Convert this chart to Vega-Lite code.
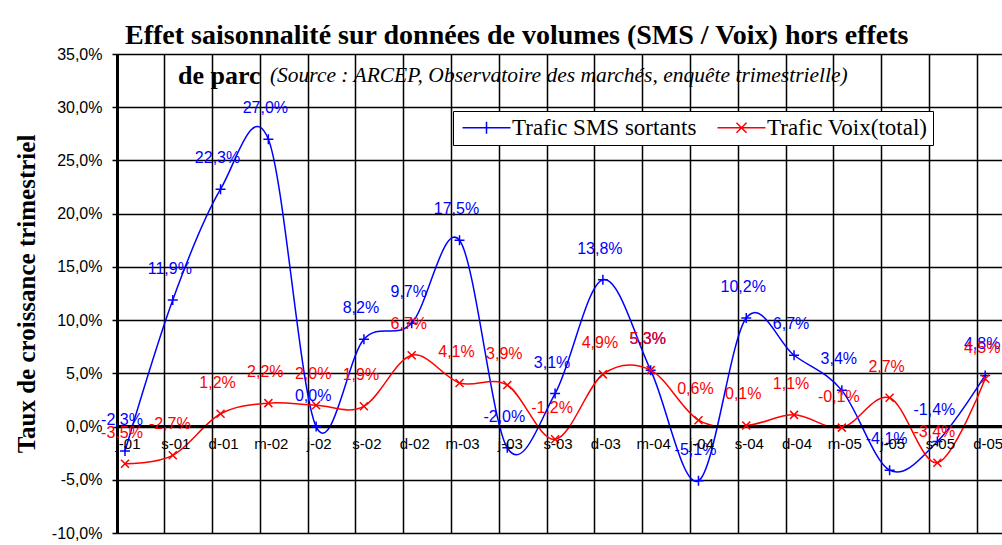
{
  "$schema": "https://vega.github.io/schema/vega-lite/v6.json",
  "autosize": "none",
  "width": 885,
  "height": 479,
  "padding": {"left": 117, "top": 54, "right": 0, "bottom": 12},
  "background": "white",
  "title": {
    "text": "Effet saisonnalité sur données de volumes (SMS / Voix) hors effets",
    "anchor": "start", "frame": "group", "dx": 8, "offset": -4,
    "font": "Liberation Serif", "fontSize": 28, "fontWeight": "bold", "color": "black"
  },
  "config": {
    "locale": {"number": {"decimal": ",", "thousands": " ", "grouping": [3], "currency": ["", " €"], "minus": "-"}},
    "view": {"stroke": null},
    "axis": {"gridColor": "black", "gridWidth": 1.5, "gridOpacity": 1}
  },
  "datasets": {
    "d": [
      {"periode": "j-01", "serie": "Trafic SMS sortants", "taux": -0.023},
      {"periode": "s-01", "serie": "Trafic SMS sortants", "taux": 0.119},
      {"periode": "d-01", "serie": "Trafic SMS sortants", "taux": 0.223},
      {"periode": "m-02", "serie": "Trafic SMS sortants", "taux": 0.270},
      {"periode": "j-02", "serie": "Trafic SMS sortants", "taux": 0.000},
      {"periode": "s-02", "serie": "Trafic SMS sortants", "taux": 0.082},
      {"periode": "d-02", "serie": "Trafic SMS sortants", "taux": 0.097},
      {"periode": "m-03", "serie": "Trafic SMS sortants", "taux": 0.175},
      {"periode": "j-03", "serie": "Trafic SMS sortants", "taux": -0.020},
      {"periode": "s-03", "serie": "Trafic SMS sortants", "taux": 0.031},
      {"periode": "d-03", "serie": "Trafic SMS sortants", "taux": 0.138},
      {"periode": "m-04", "serie": "Trafic SMS sortants", "taux": 0.053},
      {"periode": "j-04", "serie": "Trafic SMS sortants", "taux": -0.051},
      {"periode": "s-04", "serie": "Trafic SMS sortants", "taux": 0.102},
      {"periode": "d-04", "serie": "Trafic SMS sortants", "taux": 0.067},
      {"periode": "m-05", "serie": "Trafic SMS sortants", "taux": 0.034},
      {"periode": "j-05", "serie": "Trafic SMS sortants", "taux": -0.041},
      {"periode": "s-05", "serie": "Trafic SMS sortants", "taux": -0.014},
      {"periode": "d-05", "serie": "Trafic SMS sortants", "taux": 0.048},
      {"periode": "j-01", "serie": "Trafic Voix(total)", "taux": -0.035},
      {"periode": "s-01", "serie": "Trafic Voix(total)", "taux": -0.027},
      {"periode": "d-01", "serie": "Trafic Voix(total)", "taux": 0.012},
      {"periode": "m-02", "serie": "Trafic Voix(total)", "taux": 0.022},
      {"periode": "j-02", "serie": "Trafic Voix(total)", "taux": 0.020},
      {"periode": "s-02", "serie": "Trafic Voix(total)", "taux": 0.019},
      {"periode": "d-02", "serie": "Trafic Voix(total)", "taux": 0.067},
      {"periode": "m-03", "serie": "Trafic Voix(total)", "taux": 0.041},
      {"periode": "j-03", "serie": "Trafic Voix(total)", "taux": 0.039},
      {"periode": "s-03", "serie": "Trafic Voix(total)", "taux": -0.012},
      {"periode": "d-03", "serie": "Trafic Voix(total)", "taux": 0.049},
      {"periode": "m-04", "serie": "Trafic Voix(total)", "taux": 0.053},
      {"periode": "j-04", "serie": "Trafic Voix(total)", "taux": 0.006},
      {"periode": "s-04", "serie": "Trafic Voix(total)", "taux": 0.001},
      {"periode": "d-04", "serie": "Trafic Voix(total)", "taux": 0.011},
      {"periode": "m-05", "serie": "Trafic Voix(total)", "taux": -0.001},
      {"periode": "j-05", "serie": "Trafic Voix(total)", "taux": 0.027},
      {"periode": "s-05", "serie": "Trafic Voix(total)", "taux": -0.034},
      {"periode": "d-05", "serie": "Trafic Voix(total)", "taux": 0.045}
    ]
  },
  "data": {"name": "d"},
  "layer": [
    {
      "mark": {"type": "line", "interpolate": "cardinal", "strokeWidth": 1.5},
      "encoding": {
        "x": {
          "field": "periode", "type": "ordinal", "bandPosition": 0.167,
          "scale": {"type": "band", "domain": ["j-01","s-01","d-01","m-02","j-02","s-02","d-02","m-03","j-03","s-03","d-03","m-04","j-04","s-04","d-04","m-05","j-05","s-05","d-05"], "range": [0, 908], "paddingInner": 0, "paddingOuter": 0},
          "axis": {"orient": "bottom", "grid": true, "bandPosition": 0, "labels": false, "ticks": false, "domain": false, "title": null}
        },
        "y": {
          "field": "taux", "type": "quantitative",
          "scale": {"domain": [-0.1, 0.35], "nice": false, "zero": false},
          "axis": {
            "values": [-0.1, -0.05, 0, 0.05, 0.1, 0.15, 0.2, 0.25, 0.3, 0.35],
            "format": ".1%", "grid": true,
            "domainColor": "black", "domainWidth": 3,
            "tickColor": "black", "tickWidth": 1.5, "tickSize": 5,
            "labelFont": "Liberation Sans", "labelFontSize": 16, "labelColor": "black", "labelPadding": 10,
            "title": "Taux de croissance trimestriel", "titleFont": "Liberation Serif", "titleFontSize": 25,
            "titleFontWeight": "bold", "titleColor": "black", "titlePadding": 12
          }
        },
        "color": {
          "field": "serie", "type": "nominal",
          "scale": {"domain": ["Trafic SMS sortants", "Trafic Voix(total)"], "range": ["#0000ff", "#ff0000"]},
          "legend": {
            "orient": "none", "legendX": 336, "legendY": 57, "direction": "horizontal", "title": null,
            "strokeColor": "black", "fillColor": "white", "padding": 5,
            "labelFont": "Liberation Serif", "labelFontSize": 23, "labelColor": "black", "labelLimit": 400,
            "symbolSize": 400, "symbolStrokeWidth": 1.5, "symbolOffset": 17, "labelOffset": 14, "columnPadding": 16,
            "symbolType": "M-2.4,0H2.4M0,-0.6V0.6",
            "encode": {"symbols": {"update": {"shape": {"signal": "datum.value === 'Trafic SMS sortants' ? 'M-2.4,0H2.4M0,-0.6V0.6' : 'M-2.4,0H2.4M-0.5,-0.5L0.5,0.5M-0.5,0.5L0.5,-0.5'"}}}}
          }
        }
      }
    },
    {
      "data": {"values": [{}]},
      "mark": {"type": "rule", "color": "black", "strokeWidth": 3},
      "encoding": {"y": {"datum": 0, "type": "quantitative"}}
    },
    {
      "transform": [{"filter": "datum.serie === 'Trafic SMS sortants'"}],
      "mark": {"type": "point", "filled": false, "strokeWidth": 1.5, "size": 100, "opacity": 1, "color": "#0000ff", "shape": "M-1,0H1M0,-1V1"},
      "encoding": {
        "x": {"field": "periode", "type": "ordinal", "bandPosition": 0.167},
        "y": {"field": "taux", "type": "quantitative"}
      }
    },
    {
      "transform": [{"filter": "datum.serie === 'Trafic Voix(total)'"}],
      "mark": {"type": "point", "filled": false, "strokeWidth": 1.5, "size": 100, "opacity": 1, "color": "#ff0000", "shape": "M-0.8,-0.8L0.8,0.8M-0.8,0.8L0.8,-0.8"},
      "encoding": {
        "x": {"field": "periode", "type": "ordinal", "bandPosition": 0.167},
        "y": {"field": "taux", "type": "quantitative"}
      }
    },
    {
      "mark": {"type": "text", "dx": -3, "dy": -31, "font": "Liberation Sans", "fontSize": 16, "baseline": "middle", "align": "center"},
      "encoding": {
        "x": {"field": "periode", "type": "ordinal", "bandPosition": 0.167},
        "y": {"field": "taux", "type": "quantitative"},
        "text": {"field": "taux", "type": "quantitative", "format": ".1%"},
        "color": {"field": "serie", "type": "nominal"}
      }
    },
    {
      "transform": [{"filter": "datum.serie === 'Trafic SMS sortants'"}],
      "mark": {"type": "text", "dy": 17, "font": "Liberation Sans", "fontSize": 15, "baseline": "middle", "align": "center", "color": "black"},
      "encoding": {
        "x": {"field": "periode", "type": "ordinal", "bandPosition": 0.23},
        "y": {"datum": 0, "type": "quantitative"},
        "text": {"field": "periode", "type": "nominal"}
      }
    },
    {
      "data": {"values": [{"t": "de parc"}]},
      "mark": {"type": "text", "font": "Liberation Serif", "fontSize": 26, "fontWeight": "bold", "align": "left", "baseline": "alphabetic", "color": "black"},
      "encoding": {
        "x": {"datum": "s-01", "type": "ordinal", "bandPosition": 0.276},
        "y": {"datum": 0.322, "type": "quantitative"},
        "text": {"field": "t", "type": "nominal"}
      }
    },
    {
      "data": {"values": [{"t": "(Source : ARCEP, Observatoire des marchés, enquête trimestrielle)"}]},
      "mark": {"type": "text", "font": "Liberation Serif", "fontSize": 21.5, "fontStyle": "italic", "align": "left", "baseline": "alphabetic", "color": "black"},
      "encoding": {
        "x": {"datum": "m-02", "type": "ordinal", "bandPosition": 0.2},
        "y": {"datum": 0.324, "type": "quantitative"},
        "text": {"field": "t", "type": "nominal"}
      }
    }
  ]
}
